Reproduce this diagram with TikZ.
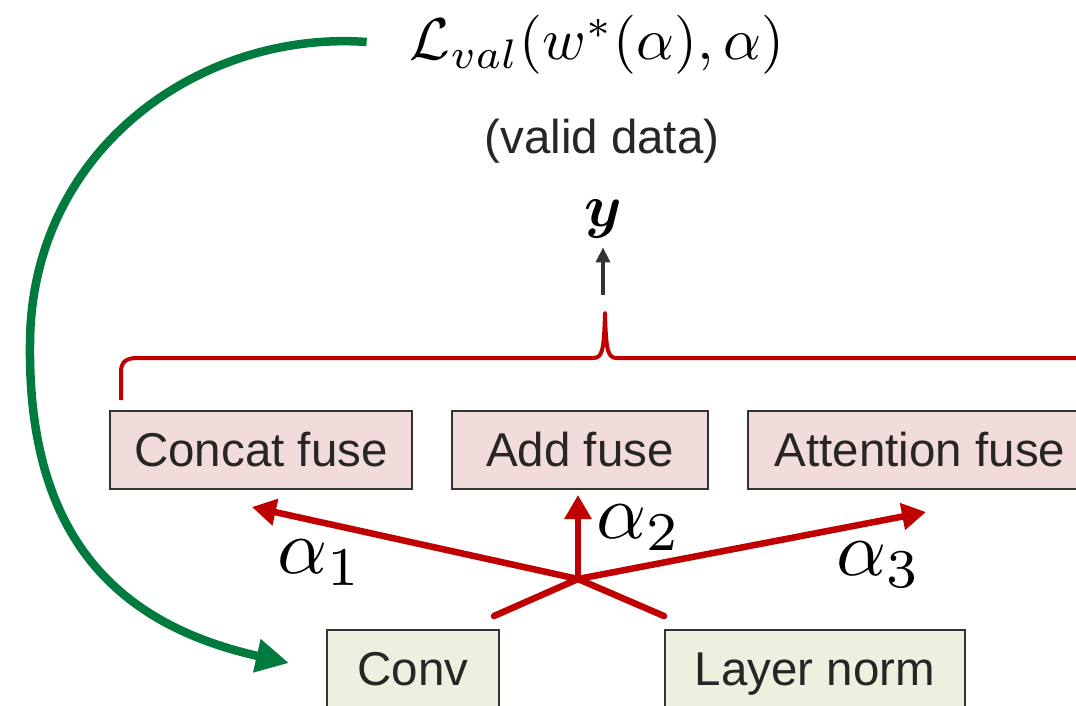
\documentclass[tikz,border=0pt]{standalone}
\usepackage{graphicx}
\usepackage{bm}
\usepackage{fontspec}
\newfontfamily\labelfont{Liberation Sans}
\usetikzlibrary{arrows.meta,calc}

\definecolor{boxred}{HTML}{F2DCDB}
\definecolor{boxgreen}{HTML}{EBF1DE}
\definecolor{edgegray}{HTML}{333333}
\definecolor{txtgray}{HTML}{262626}
\definecolor{arrred}{HTML}{C00000}
\definecolor{arrgreen}{HTML}{007A3D}

\begin{document}
\begin{tikzpicture}[
  x=1pt, y=-1pt,
  opbox/.style={draw=edgegray, line width=2pt, minimum height=78pt,
    inner sep=0pt, text height=32pt, text depth=0pt, text=txtgray,
    font=\labelfont\fontsize{47.5}{57}\selectfont},
  fusebox/.style={opbox, fill=boxred},
  basebox/.style={opbox, fill=boxgreen},
  mathlabel/.style={inner sep=0pt, text=black},
  redline/.style={draw=arrred, line width=6.5pt, line cap=round},
  redarrow/.style={draw=arrred, line width=6.5pt,
    -{Triangle[length=24pt,width=26pt]}},
  greenarrow/.style={draw=arrgreen, line width=8.5pt,
    -{Triangle[length=33pt,width=32pt]}},
  grayarrow/.style={draw=edgegray, line width=3.5pt,
    -{Triangle[length=15pt,width=14pt]}},
  bracket/.style={draw=arrred, line width=4pt, line join=round}
]
\useasboundingbox (0,0) rectangle (1076,705);
\clip (0,0) rectangle (1076,705);
\fill[white] (0,0) rectangle (1076,705);

% candidate fusion operations
\node[fusebox, minimum width=302pt] (concat) at (261,450) {Concat fuse};
\node[fusebox, minimum width=256pt] (add)    at (580,450) {Add fuse};
\node[fusebox, minimum width=344pt] (attn)   at (920,450) {Attention fuse};

% input branches
\node[basebox, minimum width=172pt] (conv)  at (413,669) {Conv};
\node[basebox, minimum width=300pt] (lnorm) at (815,669) {Layer norm};

% objective and output
\node[mathlabel] (loss) at (597,45)
  {\scalebox{5.9}{$\mathcal{L}_{val}(w^*(\alpha),\alpha)$}};
\node[inner sep=0pt, text=txtgray, font=\labelfont\fontsize{47.5}{57}\selectfont]
  (valid) at (602,141) {(valid data)};
\node[mathlabel] (ylab) at (603,219) {\scalebox{6}{$\bm{y}$}};

% architecture weights
\node[mathlabel] (a1) at (320,563) {\scalebox{7.8}{$\alpha_1$}};
\node[mathlabel] (a2) at (639,528) {\scalebox{7.8}{$\alpha_2$}};
\node[mathlabel] (a3) at (879,565) {\scalebox{7.8}{$\alpha_3$}};

% brace collecting the fused outputs
\draw[bracket] (121,400) -- (121,372) .. controls (121,362) and (126,358) .. (137,358)
  -- (593,358) .. controls (602,358) and (604,352) .. (605,313)
  .. controls (606,352) and (608,358) .. (617,358)
  -- (1073,358) .. controls (1084,358) and (1089,362) .. (1089,372) -- (1089,400);
\coordinate (btip) at (605,313);
\draw[grayarrow] ($(btip)+(-2,-18)$) -- ($(ylab.south)+(0,9)$);

% mixing of the two inputs into the three fusions
\coordinate (j) at (578,579);
\draw[redline] ($(conv.north east)+(-6,-13)$) -- (j);
\draw[redline] ($(lnorm.north west)+(0,-13)$) -- (j);
\draw[redarrow] (j) -- ($(concat.south)+(-9,17)$);
\draw[redarrow] (j) -- ($(j |- add.south)+(0,5)$);
\draw[redarrow] (j) -- ($(attn.south)+(6,22)$);

% gradient feedback from the validation loss
\draw[greenarrow] ($(loss.west)+(-43,-3)$) .. controls (200,30) and (30,150) .. (30,345)
  .. controls (28,540) and (120,625) .. ($(conv.west)+(-37,-6)$);
\end{tikzpicture}
\end{document}
